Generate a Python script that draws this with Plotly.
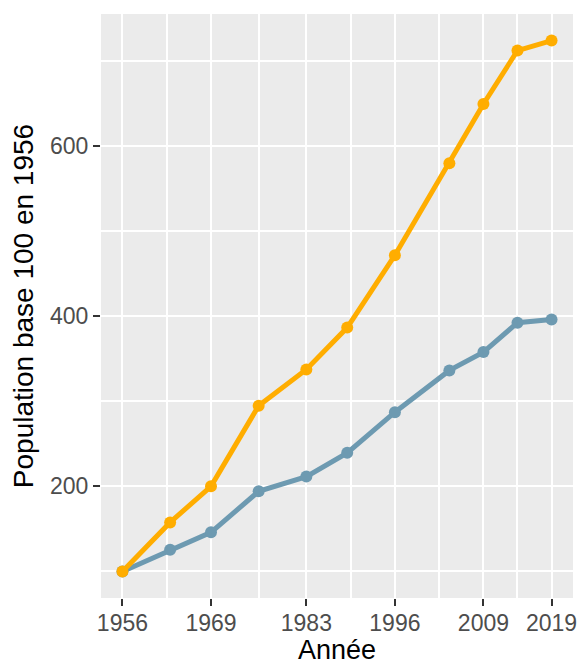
import plotly.graph_objects as go

annees = [1956, 1963, 1969, 1976, 1983, 1989, 1996, 2004, 2009, 2014, 2019]
serie_orange = [100, 157.6, 200, 294.6, 337.3, 386.4, 471.4, 579.3, 649, 711.8, 723.5]
serie_bleue = [100, 125.5, 145.9, 194.1, 211.4, 239.3, 287, 336.1, 357.6, 392.2, 395.8]

x_ticks = [1956, 1969, 1983, 1996, 2009, 2019]
x_minor = [1962.5, 1976, 1989.5, 2002.5, 2014]
y_ticks = [200, 400, 600]
y_minor = [100, 300, 500, 700]

COL_ORANGE = "#FFAD00"
COL_BLUE = "#6D9AB1"

fig = go.Figure()
fig.add_trace(go.Scatter(x=annees, y=serie_bleue, mode="lines+markers",
                         line=dict(color=COL_BLUE, width=5),
                         marker=dict(color=COL_BLUE, size=12),
                         showlegend=False))
fig.add_trace(go.Scatter(x=annees, y=serie_orange, mode="lines+markers",
                         line=dict(color=COL_ORANGE, width=5),
                         marker=dict(color=COL_ORANGE, size=12),
                         showlegend=False))

font_family = "Liberation Sans, Arial, sans-serif"

fig.update_layout(
    width=579, height=665,
    margin=dict(l=101, r=6, t=14, b=67),
    paper_bgcolor="white",
    plot_bgcolor="#EBEBEB",
    font=dict(family=font_family, color="black"),
)

fig.update_xaxes(
    automargin=False,
    range=[1952.85, 2022.15],
    tickmode="array", tickvals=x_ticks, ticktext=[str(v) for v in x_ticks],
    ticks="outside", ticklen=7, tickwidth=2, tickcolor="#333333",
    tickfont=dict(size=23, color="#4D4D4D", family=font_family),
    ticklabelstandoff=-3,
    showgrid=True, gridcolor="white", gridwidth=2.2,
    minor=dict(tickvals=x_minor, showgrid=True, gridcolor="white", gridwidth=1.5, ticks=""),
    zeroline=False, showline=False,
    title=dict(text="Année", font=dict(size=27, color="black", family=font_family), standoff=2),
)
fig.update_yaxes(
    automargin=False,
    range=[68.8, 754.7],
    tickmode="array", tickvals=y_ticks, ticktext=[str(v) for v in y_ticks],
    ticks="outside", ticklen=7, tickwidth=2, tickcolor="#333333",
    tickfont=dict(size=23, color="#4D4D4D", family=font_family),
    showgrid=True, gridcolor="white", gridwidth=2.2,
    minor=dict(tickvals=y_minor, showgrid=True, gridcolor="white", gridwidth=1.5, ticks=""),
    zeroline=False, showline=False,
    title=dict(text="Population base 100 en 1956", font=dict(size=28, color="black", family=font_family), standoff=8),
)

fig.write_html("out.html", config={"displayModeBar": False},
               post_script="document.body.style.margin='0';document.body.style.overflow='hidden';")
